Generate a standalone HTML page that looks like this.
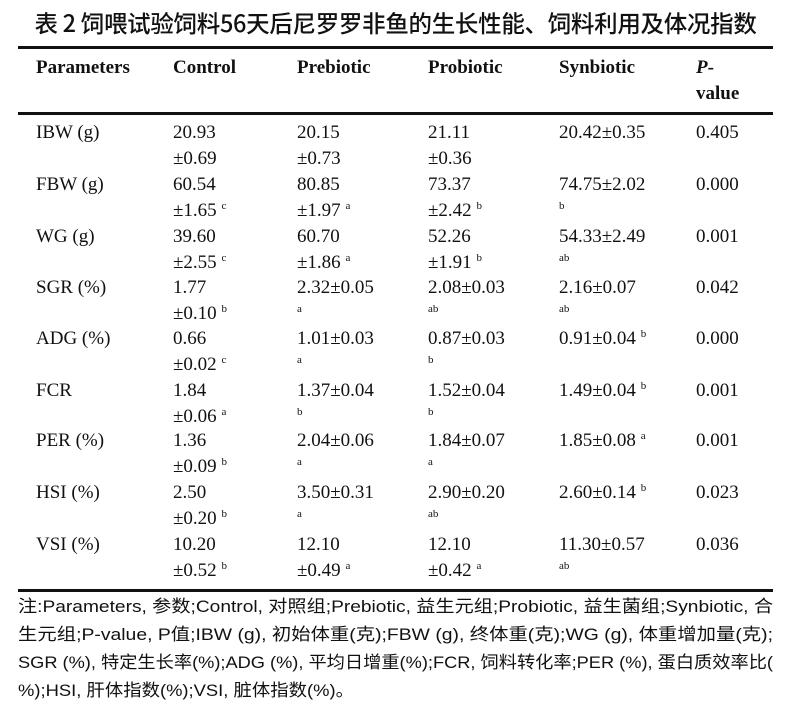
<!DOCTYPE html>
<html><head><meta charset="utf-8"><style>
body{margin:0;width:791px;height:715px;background:#fff;position:relative;overflow:hidden;color:#111}
.t{position:absolute;left:0;width:791px;top:6px;text-align:center;font-family:"Noto Sans CJK SC",sans-serif;font-size:23.5px;font-weight:500;line-height:32px;letter-spacing:-0.3px}
.r{position:absolute;left:18px;width:755px;height:3px;background:#111}
.c{position:absolute;font-family:"Liberation Serif",serif;font-size:19px;line-height:26px;white-space:nowrap}
.h{font-weight:bold}
sup{font-size:11px;vertical-align:0;position:relative;top:-7px}
.s{font-size:11px}
.n{position:absolute;left:18px;font-family:"Liberation Sans","Noto Sans CJK SC",sans-serif;font-size:17px;line-height:28px;white-space:nowrap;transform-origin:0 0}
</style></head><body>
<div class="t">表 2 饲喂试验饲料56天后尼罗罗非鱼的生长性能、饲料利用及体况指数</div>
<div class="r" style="top:46px"></div>
<div class="r" style="top:112px"></div>
<div class="r" style="top:589px"></div>

<div class="c h" style="left:36px;top:55px">Parameters</div>
<div class="c h" style="left:173px;top:55px">Control</div>
<div class="c h" style="left:297px;top:55px">Prebiotic</div>
<div class="c h" style="left:428px;top:55px">Probiotic</div>
<div class="c h" style="left:559px;top:55px">Synbiotic</div>
<div class="c h" style="left:696px;top:55px"><i>P</i>-<br>value</div>

<div class="c" style="left:36px;top:120px">IBW (g)</div>
<div class="c" style="left:173px;top:120px">20.93<br>±0.69</div>
<div class="c" style="left:297px;top:120px">20.15<br>±0.73</div>
<div class="c" style="left:428px;top:120px">21.11<br>±0.36</div>
<div class="c" style="left:559px;top:120px">20.42±0.35</div>
<div class="c" style="left:696px;top:120px">0.405</div>

<div class="c" style="left:36px;top:172px">FBW (g)</div>
<div class="c" style="left:173px;top:172px">60.54<br>±1.65 <sup>c</sup></div>
<div class="c" style="left:297px;top:172px">80.85<br>±1.97 <sup>a</sup></div>
<div class="c" style="left:428px;top:172px">73.37<br>±2.42 <sup>b</sup></div>
<div class="c" style="left:559px;top:172px">74.75±2.02<br><span class="s" style="position:relative;top:-7px">b</span></div>
<div class="c" style="left:696px;top:172px">0.000</div>

<div class="c" style="left:36px;top:224px">WG (g)</div>
<div class="c" style="left:173px;top:224px">39.60<br>±2.55 <sup>c</sup></div>
<div class="c" style="left:297px;top:224px">60.70<br>±1.86 <sup>a</sup></div>
<div class="c" style="left:428px;top:224px">52.26<br>±1.91 <sup>b</sup></div>
<div class="c" style="left:559px;top:224px">54.33±2.49<br><span class="s" style="position:relative;top:-7px">ab</span></div>
<div class="c" style="left:696px;top:224px">0.001</div>

<div class="c" style="left:36px;top:275px">SGR (%)</div>
<div class="c" style="left:173px;top:275px">1.77<br>±0.10 <sup>b</sup></div>
<div class="c" style="left:297px;top:275px">2.32±0.05<br><span class="s" style="position:relative;top:-7px">a</span></div>
<div class="c" style="left:428px;top:275px">2.08±0.03<br><span class="s" style="position:relative;top:-7px">ab</span></div>
<div class="c" style="left:559px;top:275px">2.16±0.07<br><span class="s" style="position:relative;top:-7px">ab</span></div>
<div class="c" style="left:696px;top:275px">0.042</div>

<div class="c" style="left:36px;top:326px">ADG (%)</div>
<div class="c" style="left:173px;top:326px">0.66<br>±0.02 <sup>c</sup></div>
<div class="c" style="left:297px;top:326px">1.01±0.03<br><span class="s" style="position:relative;top:-7px">a</span></div>
<div class="c" style="left:428px;top:326px">0.87±0.03<br><span class="s" style="position:relative;top:-7px">b</span></div>
<div class="c" style="left:559px;top:326px">0.91±0.04 <sup>b</sup></div>
<div class="c" style="left:696px;top:326px">0.000</div>

<div class="c" style="left:36px;top:378px">FCR</div>
<div class="c" style="left:173px;top:378px">1.84<br>±0.06 <sup>a</sup></div>
<div class="c" style="left:297px;top:378px">1.37±0.04<br><span class="s" style="position:relative;top:-7px">b</span></div>
<div class="c" style="left:428px;top:378px">1.52±0.04<br><span class="s" style="position:relative;top:-7px">b</span></div>
<div class="c" style="left:559px;top:378px">1.49±0.04 <sup>b</sup></div>
<div class="c" style="left:696px;top:378px">0.001</div>

<div class="c" style="left:36px;top:428px">PER (%)</div>
<div class="c" style="left:173px;top:428px">1.36<br>±0.09 <sup>b</sup></div>
<div class="c" style="left:297px;top:428px">2.04±0.06<br><span class="s" style="position:relative;top:-7px">a</span></div>
<div class="c" style="left:428px;top:428px">1.84±0.07<br><span class="s" style="position:relative;top:-7px">a</span></div>
<div class="c" style="left:559px;top:428px">1.85±0.08 <sup>a</sup></div>
<div class="c" style="left:696px;top:428px">0.001</div>

<div class="c" style="left:36px;top:480px">HSI (%)</div>
<div class="c" style="left:173px;top:480px">2.50<br>±0.20 <sup>b</sup></div>
<div class="c" style="left:297px;top:480px">3.50±0.31<br><span class="s" style="position:relative;top:-7px">a</span></div>
<div class="c" style="left:428px;top:480px">2.90±0.20<br><span class="s" style="position:relative;top:-7px">ab</span></div>
<div class="c" style="left:559px;top:480px">2.60±0.14 <sup>b</sup></div>
<div class="c" style="left:696px;top:480px">0.023</div>

<div class="c" style="left:36px;top:532px">VSI (%)</div>
<div class="c" style="left:173px;top:532px">10.20<br>±0.52 <sup>b</sup></div>
<div class="c" style="left:297px;top:532px">12.10<br>±0.49 <sup>a</sup></div>
<div class="c" style="left:428px;top:532px">12.10<br>±0.42 <sup>a</sup></div>
<div class="c" style="left:559px;top:532px">11.30±0.57<br><span class="s" style="position:relative;top:-7px">ab</span></div>
<div class="c" style="left:696px;top:532px">0.036</div>

<div class="n" data-w="755" style="top:593px">注:Parameters, 参数;Control, 对照组;Prebiotic, 益生元组;Probiotic, 益生菌组;Synbiotic, 合</div>
<div class="n" data-w="755" style="top:621px">生元组;P-value, P值;IBW (g), 初始体重(克);FBW (g), 终体重(克);WG (g), 体重增加量(克);</div>
<div class="n" data-w="755" style="top:649px">SGR (%), 特定生长率(%);ADG (%), 平均日增重(%);FCR, 饲料转化率;PER (%), 蛋白质效率比(</div>
<div class="n" data-w="336" style="top:677px">%);HSI, 肝体指数(%);VSI, 脏体指数(%)。</div>
<script>
document.querySelectorAll('.n').forEach(function(e){var w=e.getBoundingClientRect().width;var t=+e.getAttribute('data-w');e.style.transform='scaleX('+(t/w)+')';});
</script>
</body></html>
